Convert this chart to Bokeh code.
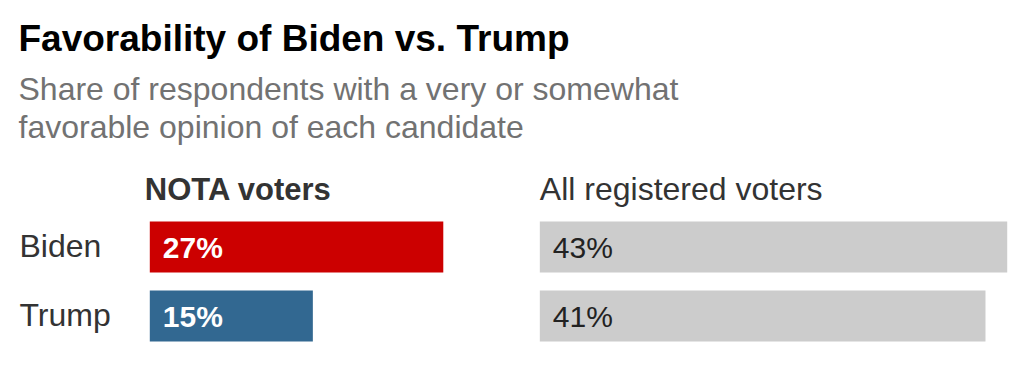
from bokeh.plotting import figure
from bokeh.models import Range1d, Label, ColumnDataSource
from bokeh.core.properties import value
from bokeh.embed import file_html
from bokeh.resources import INLINE

# ---- data ----
title_text = "Favorability of Biden vs. Trump"
subtitle_lines = ["Share of respondents with a very or somewhat",
                  "favorable opinion of each candidate"]
candidates = ["Biden", "Trump"]
groups = ["NOTA voters", "All registered voters"]
nota_values = [27, 15]
all_values = [43, 41]
nota_colors = ["#cc0000", "#326891"]
all_color = "#cccccc"

# ---- layout ----
W, H = 1008, 354
PX_PER_PCT = 10.87
LEFT0 = 149.3                    # screen px of the left panel's zero
x_start = -LEFT0 / PX_PER_PCT
x_end = x_start + W / PX_PER_PCT
RIGHT_OFFSET = 35.88             # start of right panel, in % units
ROW0, ROW_STEP, BAR_H = 246.5, 69, 51
FONT = "Liberation Sans"

p = figure(width=W, height=H, output_backend="svg", toolbar_location=None,
           x_range=Range1d(x_start, x_end), y_range=Range1d(H, 0),
           x_axis_location=None, y_axis_location=None,
           min_border=0, outline_line_color=None, tools="")
p.grid.visible = False
p.background_fill_color = "white"
p.border_fill_color = "white"

n = len(candidates)
ys = [ROW0 + i * ROW_STEP for i in range(n)]

src_l = ColumnDataSource(dict(
    y=ys, ty=[y + 0.4 for y in ys], left=[0] * n, right=nota_values,
    color=nota_colors, label=[f"{v}%" for v in nota_values]))
src_r = ColumnDataSource(dict(
    y=ys, ty=[y + 0.4 for y in ys], left=[RIGHT_OFFSET] * n,
    right=[RIGHT_OFFSET + v for v in all_values],
    label=[f"{v}%" for v in all_values]))

p.hbar(y="y", left="left", right="right", height=BAR_H, fill_color="color",
       line_color=None, source=src_l)
p.hbar(y="y", left="left", right="right", height=BAR_H, fill_color=all_color,
       line_color=None, source=src_r)

p.text(x="left", y="ty", text="label", source=src_l, x_offset=13,
       text_font=value(FONT), text_font_size="30px", text_font_style="bold",
       text_color="white", text_baseline="alphabetic", text_align="left")
p.text(x="left", y="ty", text="label", source=src_r, x_offset=13,
       text_font=value(FONT), text_font_size="30px", text_font_style="normal",
       text_color="#222222", text_baseline="alphabetic", text_align="left")

# row labels
for i, c in enumerate(candidates):
    p.add_layout(Label(x=19, y=ys[i] - 1.3, x_units="screen", y_units="data",
                       text=c, text_font=FONT, text_font_size="32px",
                       text_color="#333333", text_baseline="alphabetic",
                       text_align="left"))

# column headers
p.add_layout(Label(x=0, y=188.5, x_offset=-5, text=groups[0], text_font=FONT,
                   text_font_size="31px", text_font_style="bold",
                   text_color="#333333", text_baseline="alphabetic"))
p.add_layout(Label(x=RIGHT_OFFSET, y=188.3, x_offset=0, text=groups[1],
                   text_font=FONT, text_font_size="32px",
                   text_color="#333333", text_baseline="alphabetic"))

# title and subtitle
p.add_layout(Label(x=18, y=38.0, x_units="screen", text=title_text,
                   text_font=FONT, text_font_size="37px",
                   text_font_style="bold", text_color="#000000",
                   text_baseline="alphabetic"))
for j, line in enumerate(subtitle_lines):
    p.add_layout(Label(x=18, y=88.9 + j * 37.6, x_units="screen", text=line,
                       text_font=FONT, text_font_size="32px",
                       text_color="#727272", text_baseline="alphabetic"))

open("out.html", "w").write(file_html(p, INLINE))
